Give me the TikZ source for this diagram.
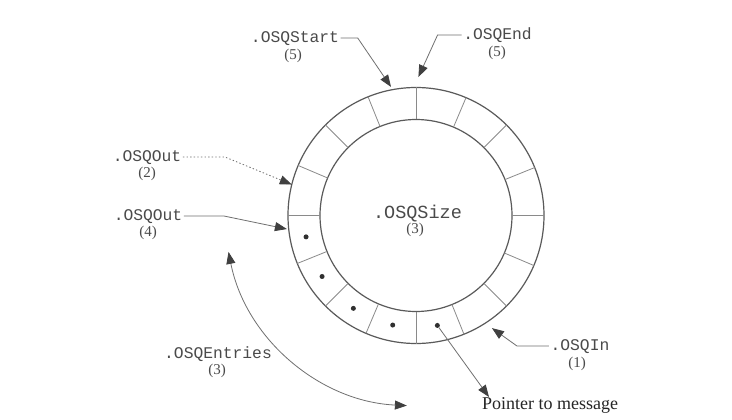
\documentclass[tikz,border=0pt]{standalone}
\usepackage{fontspec}
\setmainfont{Liberation Serif}
\setmonofont{Liberation Mono}
\usetikzlibrary{arrows.meta,calc}
\definecolor{labelgray}{HTML}{4A4A4A}
\definecolor{linegray}{HTML}{707070}
\definecolor{ringgray}{HTML}{5A5A5A}
\definecolor{divgray}{HTML}{8A8A8A}
\definecolor{tipgray}{HTML}{404040}
\definecolor{dotgray}{HTML}{303030}
\begin{document}
\begin{tikzpicture}[x=1pt,y=-1pt,
  lbl/.style={font=\fontsize{16.3}{18}\selectfont\ttfamily, text=labelgray, inner sep=1.5pt, text height=9.3pt, text depth=0pt},
  bigl/.style={lbl, font=\fontsize{18.5}{20}\selectfont\ttfamily, text height=10.5pt},
  num/.style={font=\fontsize{15}{17}\selectfont\rmfamily, text=labelgray, inner sep=1pt, text height=10pt, text depth=0pt},
  ringc/.style={circle, draw=ringgray, line width=1.2pt, inner sep=0pt, outer sep=0pt},
  divider/.style={draw=divgray, line width=0.8pt},
  dotn/.style={circle, fill=dotgray, minimum size=5pt, inner sep=0pt},
  conn/.style={draw=linegray, line width=0.8pt, -{Triangle[length=12pt,width=9pt,color=tipgray]}},
  dconn/.style={conn, dash pattern=on 1.4pt off 2.2pt},
  biconn/.style={draw=linegray, line width=0.8pt, {Triangle[length=12pt,width=9pt,color=tipgray]}-{Triangle[length=12pt,width=9pt,color=tipgray]}}
]
\useasboundingbox[fill=white] (0,0) rectangle (732,420);

% ring
\node[ringc, minimum size=256pt] (ring) at (416,215.5) {};
\node[ringc, minimum size=192pt] (hub) at (416,215.5) {};
\foreach \a in {0,22.5,...,337.5}
  \draw[divider] (hub.\a) -- (ring.\a);
\foreach \a [count=\i] in {191.25,213.75,236.25,258.75,281.25}
  \node[dotn] (d\i) at ($(ring.center)!0.875!(ring.\a)$) {};

% centre text
\node[bigl] (size) at (417.5,213) {.OSQSize};
\node[num] (sizen) at (415,228.5) {(3)};

% labels
\node[lbl] (lstart) at (295,38) {.OSQStart};
\node[num] (lstartn) at (293,55) {(5)};
\node[lbl] (lend) at (497.5,35) {.OSQEnd};
\node[num] (lendn) at (497,52) {(5)};
\node[lbl] (lout2) at (147,157) {.OSQOut};
\node[num] (lout2n) at (147,173) {(2)};
\node[lbl] (lout4) at (148,216) {.OSQOut};
\node[num] (lout4n) at (148,231.5) {(4)};
\node[lbl] (lent) at (218,354) {.OSQEntries};
\node[num] (lentn) at (217,369) {(3)};
\node[lbl] (lin) at (580,346) {.OSQIn};
\node[num] (linn) at (577,362) {(1)};
\node[font=\fontsize{18}{20}\selectfont\rmfamily, text=black!85, inner sep=0pt, anchor=base west] (ptr) at (482,409) {Pointer to message};

% arrow targets
\coordinate (tstart) at ($(ring.center)!1.0234!(ring.101.5)$);
\coordinate (tend) at ($(ring.center)!1.082!(ring.89.2)$);
\coordinate (tout4) at ($(ring.center)!1.014!(ring.186.4)$);
\coordinate (tin) at ($(ring.center)!1.061!(ring.304)$);
\coordinate (tptr) at (489,397);
\coordinate (ea) at ($(ring.center)!1.492!(ring.191.2)$);

% connectors
\draw[conn] (lstart.east) -- ++(17,0) -- (tstart);
\draw[conn] (lend.west) -- ++(-24,0) -- (tend);
\draw[dconn] (lout2.east) -- ++(42,0) -- (ring.166.3);
\draw[conn] (lout4.east) -- ++(40,0) -- (tout4);
\draw[conn] (lin.west) -- ++(-32,0) -- (tin);
\draw[conn] (d5) -- (tptr);
\draw[biconn] (ea) arc[start angle=-191.2, end angle=-267.3, radius=191];
\end{tikzpicture}
\end{document}
